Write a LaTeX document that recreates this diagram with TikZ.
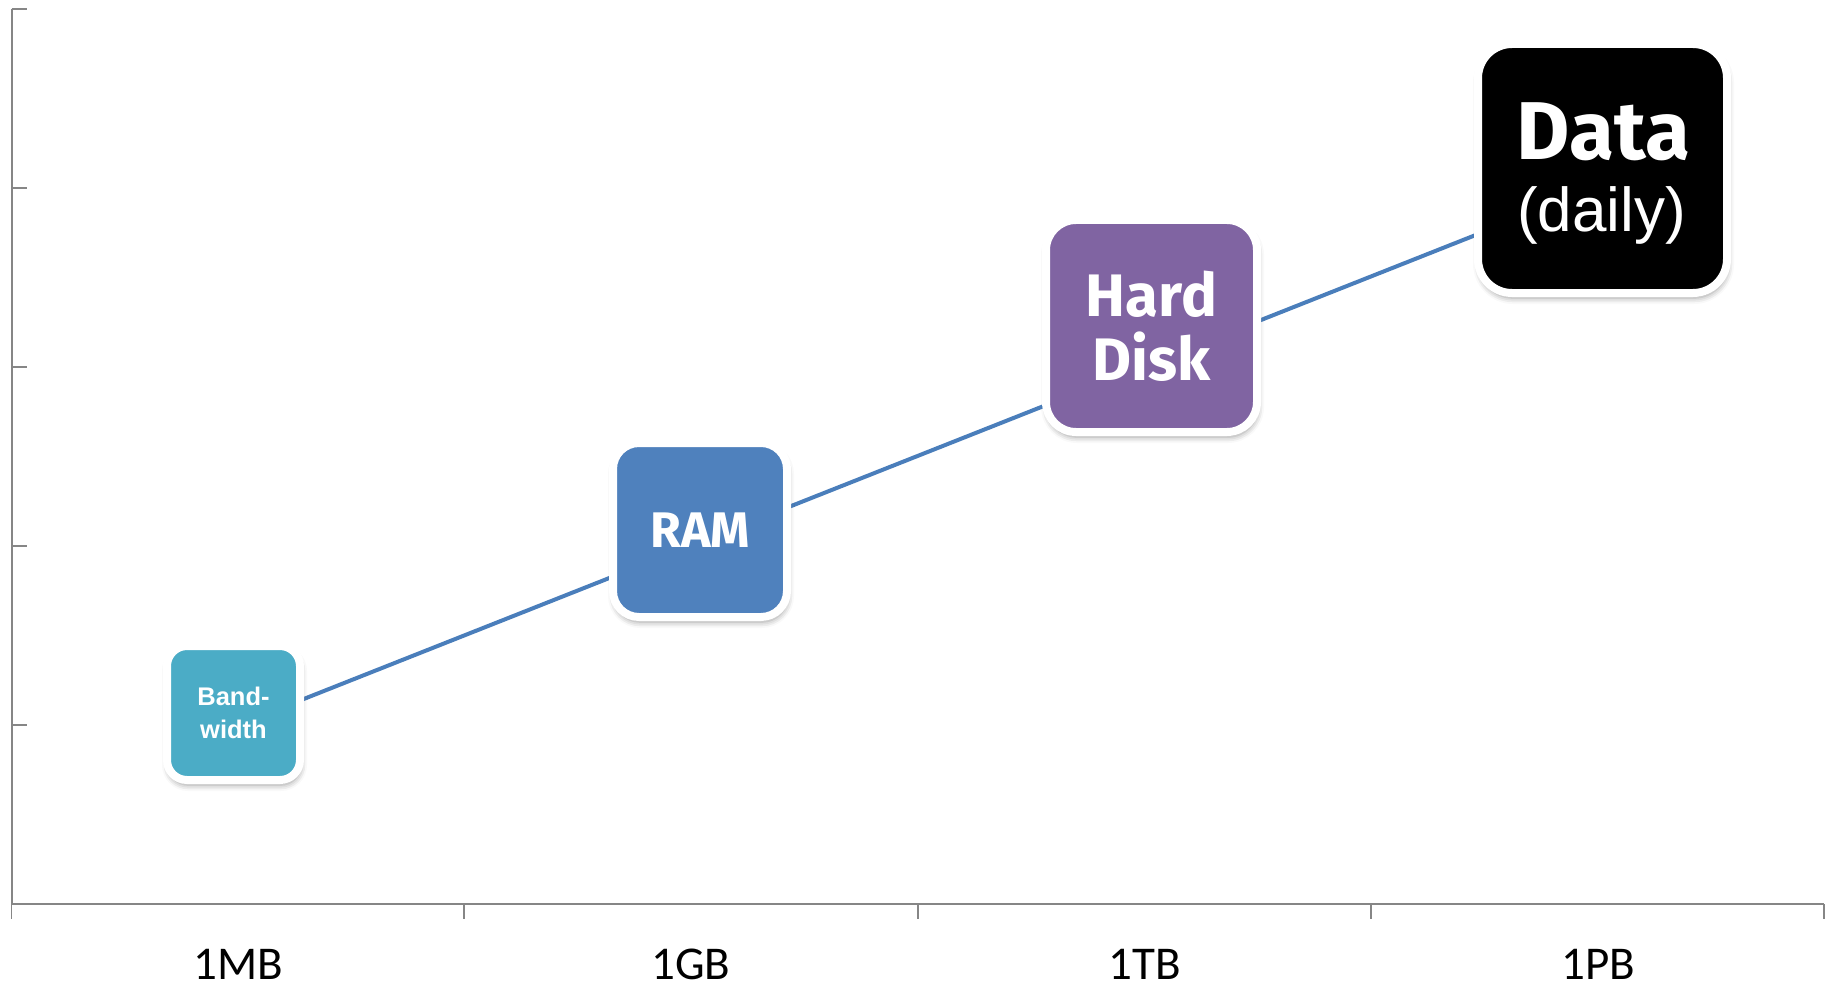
\documentclass[tikz,border=0pt]{standalone}
\usepackage{fontspec}
\setmainfont{Liberation Sans}
\newfontfamily\axisfont{Carlito}
\newfontfamily\tilefont{Fira Sans}
\usetikzlibrary{shadows.blur}

\definecolor{bwfill}{HTML}{4BACC6}
\definecolor{ramfill}{HTML}{4F81BD}
\definecolor{hdfill}{HTML}{8064A2}
\definecolor{trendline}{HTML}{4A7EBB}
\definecolor{axisgray}{HTML}{868686}

\tikzset{
  tile/.style={draw=white, line width=8pt, inner sep=0pt, align=center,
    text=white,
    blur shadow={shadow xshift=1pt, shadow yshift=-5pt,
      shadow blur radius=6pt, shadow opacity=40}},
  axisline/.style={draw=axisgray, line width=2pt},
  ticktick/.style={draw=axisgray, line width=1.5pt},
  trend/.style={draw=trendline, line width=4pt},
  catlabel/.style={anchor=base, inner sep=2pt,
    font=\axisfont\fontsize{47}{52}\selectfont},
}

\begin{document}
\begin{tikzpicture}[x=1pt, y=-1pt]
\useasboundingbox (0,0) rectangle (1833,984);

% axes
\coordinate (ytop) at (11.7,9.4);
\coordinate (orig) at (11.7,904);
\coordinate (xend) at (1824,904);
\draw[axisline] (ytop) -- (orig) -- (xend);
\foreach \yy in {9.4,188.3,367.2,546.1,725.0}
  \draw[axisline] (11.7,\yy) -- ++(15,0);
\foreach \xx in {11.7,464,918,1371,1824}
  \draw[ticktick] (\xx,904) -- ++(0,15);

% category labels
\node[catlabel] (mb) at (238,979) {1MB};
\node[catlabel] (gb) at (691,979) {1GB};
\node[catlabel] (tb) at (1145,979) {1TB};
\node[catlabel] (pb) at (1598,979) {1PB};

% growth line
\coordinate (ls) at (233,727);
\coordinate (le) at (1602,185);
\draw[trend] (ls) -- (le);

% tiles
\node[tile, fill=bwfill, minimum width=133pt, minimum height=134pt,
  rounded corners=20pt,
  font=\bfseries\fontsize{25.5}{33}\selectfont] (bw) at (233.5,713) {Band-\\width};
\node[tile, fill=ramfill, minimum width=174pt, minimum height=174pt,
  rounded corners=26pt,
  font=\tilefont\bfseries\fontsize{50}{54}\selectfont] (ram) at (700,530) {RAM};
\node[tile, fill=hdfill, minimum width=211pt, minimum height=212pt,
  rounded corners=30pt,
  font=\tilefont\bfseries\fontsize{60}{64}\selectfont] (hd) at (1151.5,326) {Hard\\Disk};
\node[tile, fill=black, minimum width=249pt, minimum height=249pt,
  rounded corners=34pt] (data) at (1602.5,168.5) {};
\node[text=white, inner sep=0pt, anchor=base,
  font=\tilefont\bfseries\fontsize{82}{90}\selectfont] (dt) at (1603.5,160) {Data};
\node[text=white, inner sep=0pt, anchor=base,
  font=\fontsize{62}{70}\selectfont] (dl) at (1601.5,232) {(daily)};
\end{tikzpicture}
\end{document}
